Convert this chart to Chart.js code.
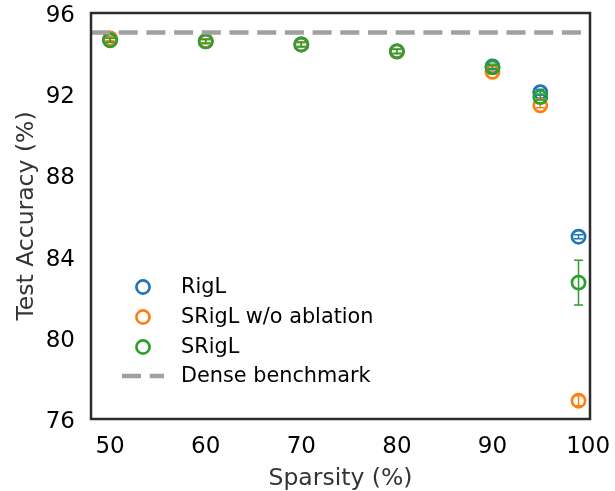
<!DOCTYPE html>
<html>
<head>
<meta charset="utf-8">
<script src="https://cdn.jsdelivr.net/npm/chart.js@4/dist/chart.umd.min.js"></script>
<style>
  body { margin: 0; background: #fff; }
</style>
</head>
<body>
<canvas id="grafico" width="615" height="491"></canvas>
<script>
// datos
const sparsity = [50, 60, 70, 80, 90, 95, 99];
const rigl = [94.66, 94.6, 94.45, 94.11, 93.37, 92.1, 84.98];
const riglErr = [0.1, 0.1, 0.1, 0.1, 0.1, 0.15, 0.1];
const sriglNoAbl = [94.75, 94.63, 94.45, 94.1, 93.1, 91.45, 76.9];
const sriglNoAblErr = [0.1, 0.1, 0.1, 0.1, 0.1, 0.12, 0.25];
const srigl = [94.66, 94.6, 94.45, 94.11, 93.32, 91.86, 82.72];
const sriglErr = [0.1, 0.1, 0.12, 0.1, 0.1, 0.15, 1.1];
const denseAcc = 95.04;
const xTicks = [50, 60, 70, 80, 90, 100];
const yTicks = [76, 80, 84, 88, 92, 96];
const xRange = [48, 100.2];
const yRange = [76, 96];

const labels = ["RigL", "SRigL w/o ablation", "SRigL", "Dense benchmark"];
const colores = ["#1f77b4", "#ff7f0e", "#2ca02c", "#a0a0a0"];

function puntos(ys) {
    return sparsity.map((x, i) => ({ x: x, y: ys[i] }));
}

function serie(label, ys, errs, color, orden) {
    return {
        type: "scatter",
        label: label,
        data: puntos(ys),
        errors: errs,
        borderColor: color,
        backgroundColor: "rgba(0,0,0,0)",
        borderWidth: 2.7,
        pointRadius: 6.6,
        pointHoverRadius: 6.6,
        pointBorderWidth: 2.7,
        order: orden
    };
}

// barras de error, dibujadas antes de los marcadores de cada serie
const errorBars = {
    id: "errorBars",
    beforeDatasetDraw(chart, args) {
        const ds = chart.data.datasets[args.index];
        if (!ds.errors) return;
        const ctx = chart.ctx;
        const xs = chart.scales.x, ys = chart.scales.y;
        ctx.save();
        ctx.strokeStyle = ds.borderColor;
        ctx.lineWidth = 1.5;
        ds.data.forEach((p, i) => {
            const px = xs.getPixelForValue(p.x);
            const top = ys.getPixelForValue(p.y + ds.errors[i]);
            const bot = ys.getPixelForValue(p.y - ds.errors[i]);
            ctx.beginPath();
            ctx.moveTo(px, top); ctx.lineTo(px, bot);
            ctx.moveTo(px - 4.5, top); ctx.lineTo(px + 4.5, top);
            ctx.moveTo(px - 4.5, bot); ctx.lineTo(px + 4.5, bot);
            ctx.stroke();
        });
        ctx.restore();
    }
};

// marco y leyenda dentro del area
const marcoLeyenda = {
    id: "marcoLeyenda",
    afterDraw(chart) {
        const ctx = chart.ctx;
        const a = chart.chartArea;
        ctx.save();
        ctx.strokeStyle = "#2b2b2b";
        ctx.lineWidth = 2.5;
        ctx.strokeRect(a.left, a.top, a.right - a.left, a.bottom - a.top);

        const filas = [132, 102, 72, 43];
        ctx.font = "20.8px 'DejaVu Sans'";
        ctx.textBaseline = "middle";
        ctx.fillStyle = "#000";
        labels.forEach((lab, i) => {
            const y = a.bottom - filas[i];
            const mx = a.left + 52;
            if (i < 3) {
                ctx.strokeStyle = colores[i];
                ctx.lineWidth = 2.7;
                ctx.beginPath();
                ctx.arc(mx, y, 6.6, 0, Math.PI * 2);
                ctx.stroke();
            } else {
                ctx.strokeStyle = colores[3];
                ctx.lineWidth = 4.5;
                ctx.setLineDash([19, 8.7]);
                ctx.beginPath();
                ctx.moveTo(mx - 21, y); ctx.lineTo(mx + 21, y);
                ctx.stroke();
                ctx.setLineDash([]);
            }
            ctx.fillText(lab, a.left + 90, y + 1);
        });
        ctx.restore();
    }
};

function sinPadding(s) {
    s.paddingTop = 0; s.paddingBottom = 0;
    s.paddingLeft = 0; s.paddingRight = 0;
}

const ctx = document.getElementById("grafico").getContext("2d");
const grafico = new Chart(ctx, {
    data: {
        datasets: [
            serie(labels[0], rigl, riglErr, colores[0], 3),
            serie(labels[1], sriglNoAbl, sriglNoAblErr, colores[1], 2),
            serie(labels[2], srigl, sriglErr, colores[2], 1),
            {
                type: "line",
                label: labels[3],
                data: [{ x: xRange[0], y: denseAcc }, { x: xRange[1], y: denseAcc }],
                borderColor: colores[3],
                borderWidth: 4.5,
                borderDash: [19, 8.7],
                pointRadius: 0,
                fill: false,
                order: 0
            }
        ]
    },
    options: {
        responsive: false,
        animation: false,
        layout: { padding: { top: 13, right: 25, left: 0, bottom: 0 } },
        plugins: { legend: { display: false }, tooltip: { enabled: false } },
        scales: {
            x: {
                type: "linear",
                min: xRange[0],
                max: xRange[1],
                afterBuildTicks: s => { s.ticks = xTicks.map(v => ({ value: v })); },
                afterFit: s => { s.height = 72; sinPadding(s); },
                grid: { display: false, drawTicks: false },
                border: { display: false },
                ticks: { color: "#000", padding: 14, font: { family: "DejaVu Sans", size: 23 } },
                title: {
                    display: true,
                    text: "Sparsity (%)",
                    color: "#333",
                    font: { family: "DejaVu Sans", size: 23.5, lineHeight: 1.1 },
                    padding: { top: 0, bottom: -1 }
                }
            },
            y: {
                type: "linear",
                min: yRange[0],
                max: yRange[1],
                afterBuildTicks: s => { s.ticks = yTicks.map(v => ({ value: v })); },
                afterFit: s => { s.width = 91; sinPadding(s); },
                grid: { display: false, drawTicks: false },
                border: { display: false },
                ticks: { color: "#000", padding: 16, labelOffset: 3, font: { family: "DejaVu Sans", size: 23 } },
                title: {
                    display: true,
                    text: "Test Accuracy (%)",
                    color: "#333",
                    font: { family: "DejaVu Sans", size: 23.5, lineHeight: 1.1 },
                    padding: { top: 14, bottom: 0 }
                }
            }
        }
    },
    plugins: [errorBars, marcoLeyenda]
});
</script>
</body>
</html>
